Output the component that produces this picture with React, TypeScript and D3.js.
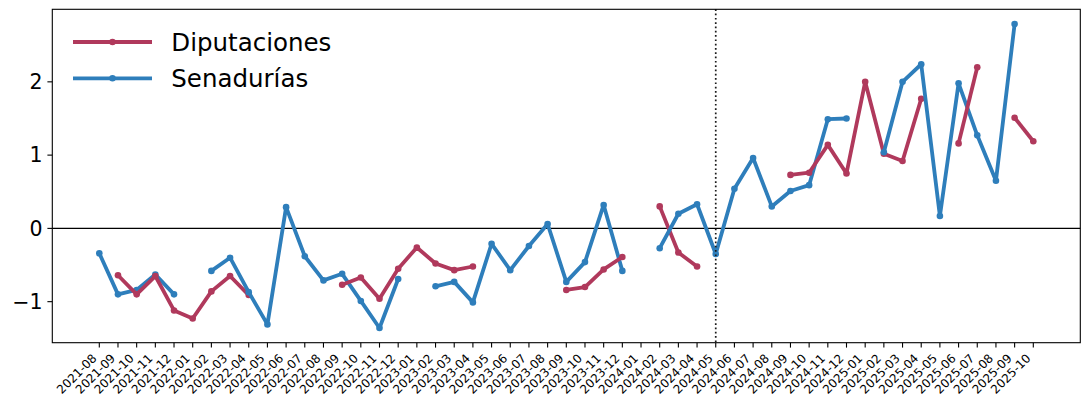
import * as d3 from 'd3';

const months = [
  '2021-08', '2021-09', '2021-10', '2021-11', '2021-12',
  '2022-01', '2022-02', '2022-03', '2022-04', '2022-05', '2022-06',
  '2022-07', '2022-08', '2022-09', '2022-10', '2022-11', '2022-12',
  '2023-01', '2023-02', '2023-03', '2023-04', '2023-05', '2023-06',
  '2023-07', '2023-08', '2023-09', '2023-10', '2023-11', '2023-12',
  '2024-01', '2024-02', '2024-03', '2024-04', '2024-05', '2024-06',
  '2024-07', '2024-08', '2024-09', '2024-10', '2024-11', '2024-12',
  '2025-01', '2025-02', '2025-03', '2025-04', '2025-05', '2025-06',
  '2025-07', '2025-08', '2025-09', '2025-10',
];

// null = no data for that month (line breaks)
const diputaciones: (number | null)[] = [
  null, -0.64, -0.90, -0.65, -1.12,
  -1.23, -0.86, -0.65, -0.91, null, null,
  null, null, -0.77, -0.67, -0.96, -0.55,
  -0.26, -0.48, -0.57, -0.52, null, null,
  null, null, -0.84, -0.80, -0.56, -0.39,
  null, 0.30, -0.33, -0.52, null, null,
  null, null, 0.73, 0.76, 1.14, 0.75,
  2.00, 1.02, 0.92, 1.77, null, 1.16,
  2.20, null, 1.51, 1.19,
];

const senadurias: (number | null)[] = [
  -0.34, -0.90, -0.84, -0.63, -0.90,
  null, -0.58, -0.40, -0.87, -1.31, 0.29,
  -0.38, -0.71, -0.62, -0.99, -1.36, -0.69,
  null, -0.79, -0.73, -1.01, -0.21, -0.57,
  -0.24, 0.06, -0.73, -0.46, 0.32, -0.58,
  null, -0.27, 0.20, 0.33, -0.35, 0.54,
  0.96, 0.30, 0.51, 0.59, 1.49, 1.50,
  null, 1.04, 2.00, 2.24, 0.17, 1.98,
  1.27, 0.65, 2.79, null,
];

const yTicks = [-1, 0, 1, 2];
const cutoffMonth = '2024-05';

const series = [
  { name: 'Diputaciones', values: diputaciones, color: '#b0395c' },
  { name: 'Senadurías', values: senadurias, color: '#2e7ebb' },
];

const W = 1089;
const H = 409;
const plot = { left: 52.3, right: 1080.3, top: 9.3, bottom: 342.7 };
const font = '"DejaVu Sans", sans-serif';
const lineW = 3.8;
const markR = 3.3;

// split one series into its runs of consecutive values
function runs(values: (number | null)[]) {
  const out: { start: number; pts: [number, number][] }[] = [];
  let cur: [number, number][] = [];
  values.forEach((v, i) => {
    if (v == null) {
      if (cur.length) out.push({ start: cur[0][0], pts: cur });
      cur = [];
    } else cur.push([i, v]);
  });
  if (cur.length) out.push({ start: cur[0][0], pts: cur });
  return out;
}

export default function App() {
  const x = d3.scaleLinear().domain([0, months.length - 1]).range([99.3, 1033.3]);
  const y = d3.scaleLinear().domain([-1.56, 2.99]).range([plot.bottom, plot.top]);
  const line = d3.line<[number, number]>().x(d => x(d[0])).y(d => y(d[1]));
  const fmt = d3.format('d');

  // segments drawn in order of their first month, Diputaciones first on ties
  const segs = series
    .flatMap((s, k) => runs(s.values).map(r => ({ ...r, color: s.color, k })))
    .sort((a, b) => a.start - b.start || a.k - b.k);

  const cutX = x(months.indexOf(cutoffMonth));

  return (
    <div style={{ position: 'absolute', left: 0, top: 0 }}>
      <svg width={W} height={H} style={{ display: 'block', background: '#fff' }}>
        <line x1={plot.left} x2={plot.right} y1={y(0)} y2={y(0)} stroke="#000" strokeWidth={1.1} />

        {segs.map((s, i) => (
          <g key={i}>
            <path d={line(s.pts) ?? ''} fill="none" stroke={s.color} strokeWidth={lineW}
              strokeLinejoin="round" strokeLinecap="butt" />
            {s.pts.map(p => (
              <circle key={p[0]} cx={x(p[0])} cy={y(p[1])} r={markR} fill={s.color} />
            ))}
          </g>
        ))}

        <line x1={cutX} x2={cutX} y1={plot.top} y2={plot.bottom} stroke="#1a1a1a"
          strokeWidth={1.7} strokeDasharray="1.7,2.6" />

        <rect x={plot.left} y={plot.top} width={plot.right - plot.left} height={plot.bottom - plot.top}
          fill="none" stroke="#000" strokeWidth={1.1} />

        {yTicks.map(t => (
          <g key={t}>
            <line x1={plot.left - 4.9} x2={plot.left} y1={y(t)} y2={y(t)} stroke="#000" strokeWidth={1.1} />
            <text x={plot.left - 9.8} y={y(t)} dy="0.36em" textAnchor="end" fontSize={20.5}
              fontFamily={font} fill="#000">{fmt(t)}</text>
          </g>
        ))}

        {months.map((m, i) => (
          <g key={m}>
            <line x1={x(i)} x2={x(i)} y1={plot.bottom} y2={plot.bottom + 4.9} stroke="#000" strokeWidth={1.1} />
            <text transform={`translate(${x(i) - 2},${plot.bottom + 16.3}) rotate(-45)`}
              textAnchor="end" fontSize={12} fontFamily={font} fill="#000">{m}</text>
          </g>
        ))}

        {series.map((s, i) => {
          const ly = 42 + i * 36.3;
          return (
            <g key={s.name}>
              <line x1={73} x2={152} y1={ly} y2={ly} stroke={s.color} strokeWidth={lineW} />
              <circle cx={112.5} cy={ly} r={markR} fill={s.color} />
              <text x={171.3} y={ly + 9} fontSize={24.5} fontFamily={font} fill="#000">{s.name}</text>
            </g>
          );
        })}
      </svg>
    </div>
  );
}
